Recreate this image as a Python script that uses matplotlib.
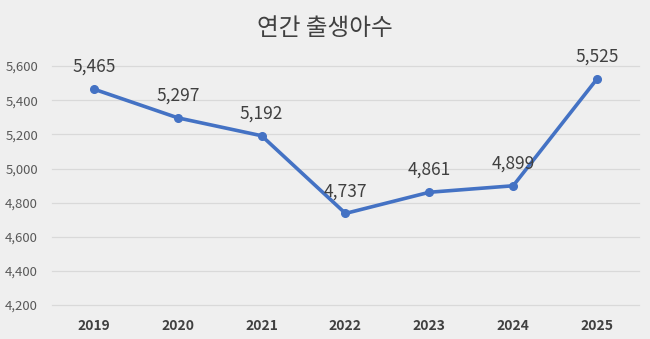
import matplotlib.pyplot as plt
from matplotlib.ticker import FuncFormatter

plt.rcParams['font.family'] = ['Noto Sans CJK KR', 'DejaVu Sans']

years = ['2019', '2020', '2021', '2022', '2023', '2024', '2025']
births = [5465, 5297, 5192, 4737, 4861, 4899, 5525]
yticks = [4200, 4400, 4600, 4800, 5000, 5200, 5400, 5600]

bg = '#efefef'
fig = plt.figure(figsize=(6.5, 3.39), dpi=100, facecolor=bg)
ax = fig.add_axes([0.08, 0.1, 0.903, 0.705], facecolor=bg)

x = list(range(len(years)))
ax.plot(x, births, color='#4472c4', linewidth=2.6, marker='o', markersize=5.5,
        solid_capstyle='round', zorder=3)

for xi, v in zip(x, births):
    ax.annotate(f'{v:,}', (xi, v), xytext=(0, 16), textcoords='offset points',
                ha='center', va='center', fontsize=12.5, color='#404040', zorder=4)

ax.set_xlim(-0.5, len(years) - 0.5)
ax.set_ylim(4200, 5600)
ax.set_yticks(yticks)
ax.yaxis.set_major_formatter(FuncFormatter(lambda v, p: f'{int(v):,}'))
ax.set_xticks(x)
ax.set_xticklabels(years, fontweight='bold')

ax.grid(axis='y', color='#d9d9d9', linewidth=0.9, clip_on=False)
for gl in ax.get_ygridlines():
    gl.set_clip_on(False)
ax.set_axisbelow(True)
for s in ax.spines.values():
    s.set_visible(False)
ax.tick_params(axis='both', length=0, colors='#595959', labelsize=9.5)
ax.tick_params(axis='x', pad=10, labelcolor='#404040', labelsize=10)
ax.tick_params(axis='y', pad=10)

fig.text(0.5, 0.917, '연간 출생아수', ha='center', va='center',
         fontsize=17, color='#404040')

fig.savefig('out.png', dpi=100, facecolor=bg)
